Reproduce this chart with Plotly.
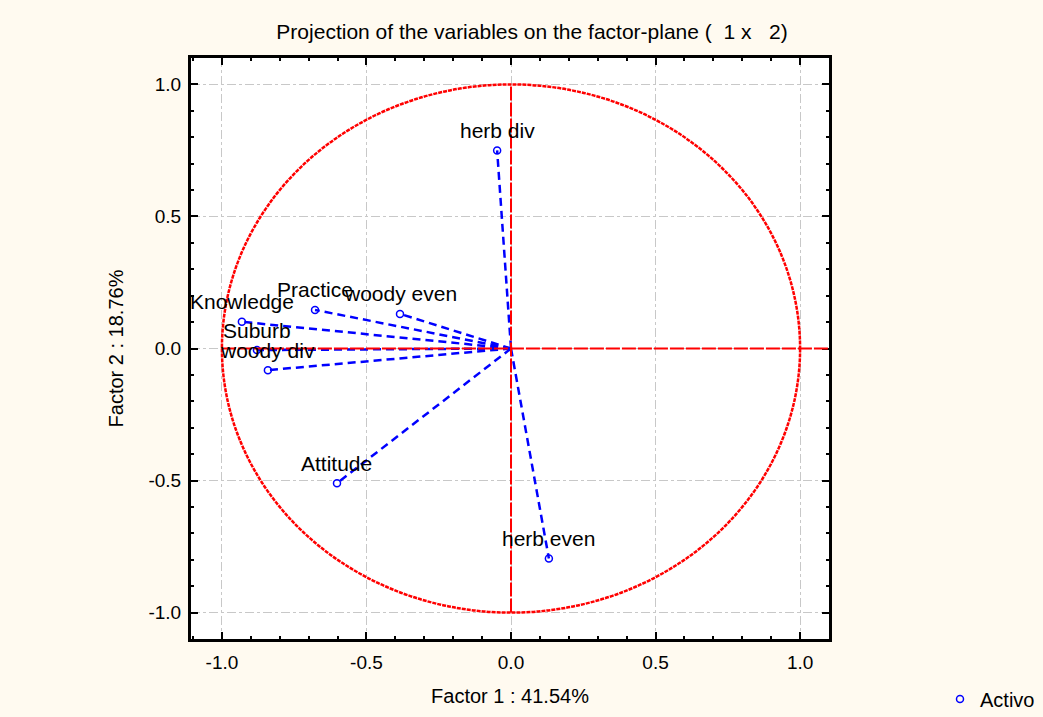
import plotly.graph_objects as go

# ---- data ----
variables = ["herb div", "Practice", "woody even", "Knowledge", "Suburb", "woody div", "Attitude", "herb even"]
factor1 = [-0.048, -0.678, -0.384, -0.931, -0.879, -0.841, -0.602, 0.131]
factor2 = [0.750, 0.146, 0.131, 0.101, -0.006, -0.082, -0.510, -0.795]
tick_values = [-1.0, -0.5, 0.0, 0.5, 1.0]
tick_labels = ["-1.0", "-0.5", "0.0", "0.5", "1.0"]
title_text = "Projection of the variables on the factor-plane (  1 x   2)"
x_title = "Factor 1 : 41.54%"
y_title = "Factor 2 : 18.76%"
legend_name = "Activo"
circle_radius = 1.0

FONT = "Liberation Sans, Arial, sans-serif"
BLUE = "#0000ff"
RED = "#ff0000"

fig = go.Figure()

# vectors from origin to each variable
for name, fx, fy in zip(variables, factor1, factor2):
    fig.add_trace(go.Scatter(
        x=[0, fx], y=[0, fy], mode="lines",
        line=dict(color=BLUE, width=2.5, dash="8px,5px"),
        showlegend=False, hoverinfo="skip"))

# points
fig.add_trace(go.Scatter(
    x=factor1, y=factor2, mode="markers", name=legend_name,
    marker=dict(symbol="circle-open", color=BLUE, size=7, line=dict(width=1.5)),
    text=variables, hovertemplate="%{text}<br>%{x:.3f}, %{y:.3f}<extra></extra>"))

# labels above points
for name, fx, fy in zip(variables, factor1, factor2):
    fig.add_annotation(x=fx, y=fy, text=name, showarrow=False, yshift=20,
                       font=dict(family=FONT, size=21, color="black"))

# unit circle and red axes
fig.add_shape(type="circle", xref="x", yref="y",
              x0=-circle_radius, y0=-circle_radius, x1=circle_radius, y1=circle_radius,
              line=dict(color=RED, width=2.5, dash="4px,1px"), layer="above")
fig.add_shape(type="line", xref="x", yref="y", x0=-circle_radius, x1=circle_radius + 0.1, y0=0, y1=0,
              line=dict(color=RED, width=2, dash="14px,2px"), layer="above")
fig.add_shape(type="line", xref="x", yref="y", x0=0, x1=0, y0=-circle_radius, y1=circle_radius,
              line=dict(color=RED, width=2, dash="14px,2px"), layer="above")

axis_common = dict(
    tickvals=tick_values, ticktext=tick_labels,
    showgrid=True, gridcolor="#c8c8c8", gridwidth=1, griddash="dashdot",
    zeroline=False, showline=True, mirror="ticks", linecolor="black", linewidth=3,
    ticks="inside", ticklen=7, tickwidth=2, tickcolor="black",
    minor=dict(dtick=0.1, ticks="inside", ticklen=3, tickwidth=2, tickcolor="black", showgrid=False),
    tickfont=dict(family=FONT, size=19, color="black"),
)

fig.update_layout(
    width=1043, height=717,
    margin=dict(l=191, r=214, t=58, b=78, autoexpand=False),
    paper_bgcolor="#fffaf0", plot_bgcolor="white",
    title=dict(text=title_text, x=(532 / 1043), xanchor="center", y=1 - 32 / 717, yanchor="middle",
               font=dict(family=FONT, size=21, color="black")),
    xaxis=dict(axis_common, range=[-1.107, 1.1], ticklabelstandoff=4,
               title=dict(text=x_title, font=dict(family=FONT, size=20, color="black"), standoff=18)),
    yaxis=dict(axis_common, range=[-1.1, 1.1], ticklabelstandoff=3,
               title=dict(text=y_title, font=dict(family=FONT, size=20, color="black"), standoff=20)),
    legend=dict(x=(940 - 191) / 638, y=(639 - 699) / 581, xanchor="left", yanchor="middle",
                bgcolor="rgba(0,0,0,0)", font=dict(family=FONT, size=20, color="black")),
    showlegend=True,
)

fig.write_html("out.html")
